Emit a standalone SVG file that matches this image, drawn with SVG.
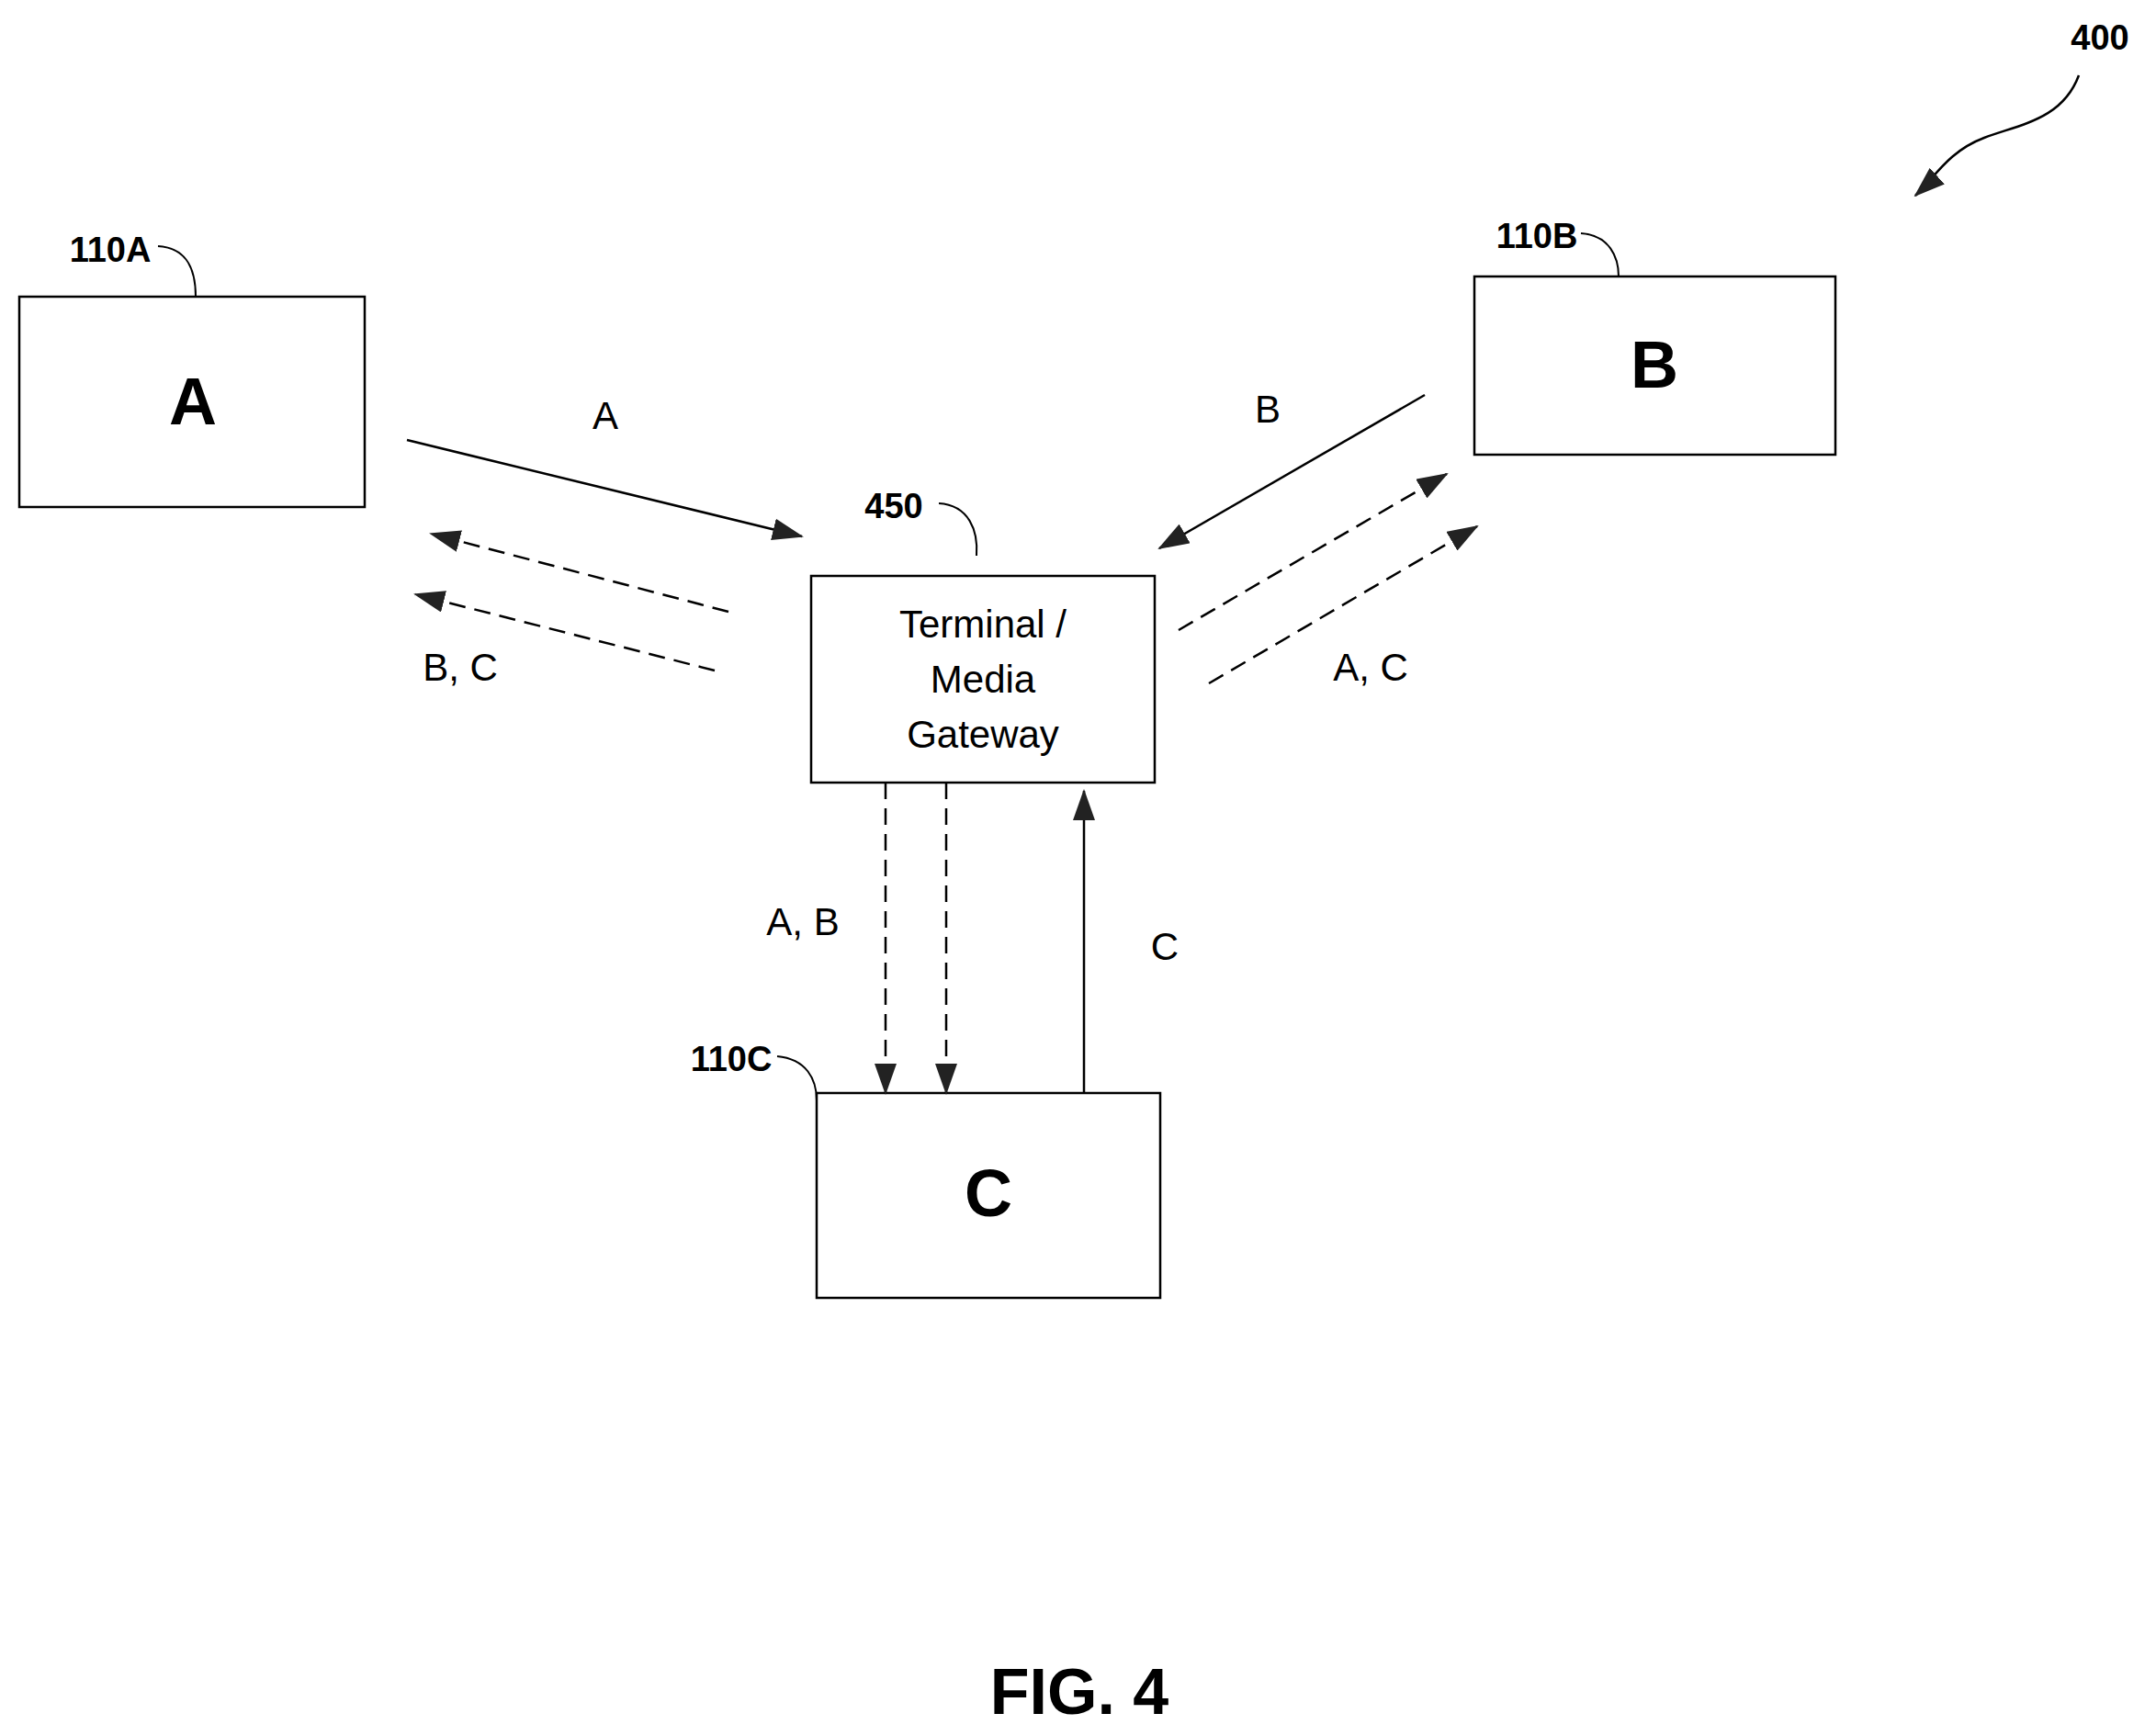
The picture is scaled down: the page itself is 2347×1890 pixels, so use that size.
<svg xmlns="http://www.w3.org/2000/svg" width="2347" height="1890" viewBox="0 0 2347 1890">
<style>
.box{fill:#fff;stroke:#000;stroke-width:2.5}
.big{font-family:"Liberation Sans",Arial,sans-serif;font-weight:bold;font-size:72px;text-anchor:middle}
.ref{font-family:"Liberation Sans",Arial,sans-serif;font-weight:bold;font-size:38px;text-anchor:middle}
.lbl{font-family:"Liberation Sans",Arial,sans-serif;font-size:42px;text-anchor:middle}
.ln{fill:none;stroke:#000;stroke-width:2.5}
.dash{stroke-dasharray:18 10}
.lead{fill:none;stroke:#000;stroke-width:2}
</style>
<defs>
<marker id="ah" markerUnits="userSpaceOnUse" markerWidth="34" markerHeight="24" refX="32" refY="12" orient="auto"><path d="M0,0 L34,12 L0,24 Z" fill="#222"/></marker>
</defs>
<rect width="2347" height="1890" fill="#fff"/>
<g id="nodeA"><rect class="box" x="21" y="323" width="376" height="229"/><text class="big" x="210" y="462">A</text></g>
<g id="nodeB"><rect class="box" x="1605" y="301" width="393" height="194"/><text class="big" x="1801" y="422">B</text></g>
<g id="nodeGW"><rect class="box" x="883" y="627" width="374" height="225"/>
<text class="lbl" x="1070" y="694">Terminal /</text><text class="lbl" x="1070" y="754">Media</text><text class="lbl" x="1070" y="814">Gateway</text></g>
<g id="nodeC"><rect class="box" x="889" y="1190" width="374" height="223"/><text class="big" x="1076" y="1324">C</text></g>
<g id="refs">
<text class="ref" x="120" y="285">110A</text><path class="lead" d="M172,268 C205,270 213,295 213,323"/>
<text class="ref" x="1673" y="270">110B</text><path class="lead" d="M1721,254 C1752,256 1762,280 1762,301"/>
<text class="ref" x="973" y="564">450</text><path class="lead" d="M1022,548 C1055,550 1065,578 1063,605"/>
<text class="ref" x="796" y="1166">110C</text><path class="lead" d="M846,1150 C878,1153 889,1175 889,1198"/>
<text class="ref" x="2286" y="54">400</text>
<path class="ln" d="M2263,82 C2245,130 2200,135 2160,150 C2120,165 2105,195 2085,213" marker-end="url(#ah)"/>
<text class="ref" x="1175" y="1866" style="font-size:70px">FIG. 4</text>
</g>
<g id="connectors">
<line class="ln" x1="443" y1="479" x2="873" y2="584" marker-end="url(#ah)"/>
<line class="ln dash" x1="793" y1="666" x2="469" y2="581" marker-end="url(#ah)"/>
<line class="ln dash" x1="778" y1="730" x2="452" y2="647" marker-end="url(#ah)"/>
<line class="ln" x1="1551" y1="430" x2="1262" y2="597" marker-end="url(#ah)"/>
<line class="ln dash" x1="1283" y1="686" x2="1575" y2="516" marker-end="url(#ah)"/>
<line class="ln dash" x1="1316" y1="744" x2="1608" y2="573" marker-end="url(#ah)"/>
<line class="ln dash" x1="964" y1="852" x2="964" y2="1190" marker-end="url(#ah)"/>
<line class="ln dash" x1="1030" y1="852" x2="1030" y2="1190" marker-end="url(#ah)"/>
<line class="ln" x1="1180" y1="1190" x2="1180" y2="861" marker-end="url(#ah)"/>
<text class="lbl" x="659" y="467">A</text>
<text class="lbl" x="501" y="741">B, C</text>
<text class="lbl" x="1380" y="460">B</text>
<text class="lbl" x="1492" y="741">A, C</text>
<text class="lbl" x="874" y="1018">A, B</text>
<text class="lbl" x="1268" y="1045">C</text>
</g>
</svg>
